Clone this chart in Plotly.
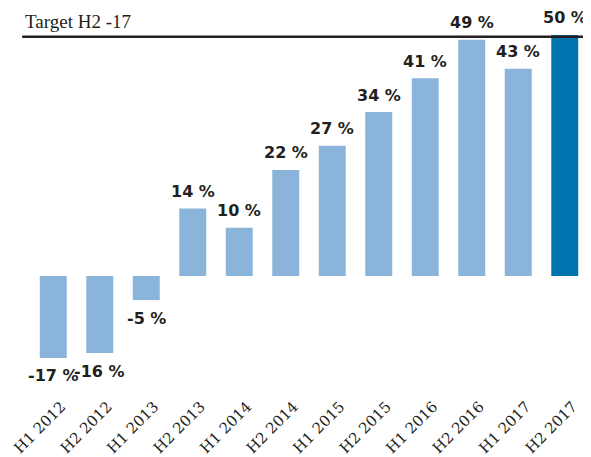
import plotly.graph_objects as go

categories = ["H1 2012", "H2 2012", "H1 2013", "H2 2013", "H1 2014", "H2 2014",
              "H1 2015", "H2 2015", "H1 2016", "H2 2016", "H1 2017", "H2 2017"]
values = [-17, -16, -5, 14, 10, 22, 27, 34, 41, 49, 43, 50]
labels = ["-17 %", "-16 %", "-5 %", "14 %", "10 %", "22 %", "27 %", "34 %",
          "41 %", "49 %", "43 %", "50 %"]
target_value = 49.6
target_label = "Target H2 -17"

light = "#8ab4d9"
dark = "#0072ad"
colors = [light] * (len(values) - 1) + [dark]

fig = go.Figure()
fig.add_trace(go.Bar(
    x=categories, y=values, marker=dict(color=colors, line=dict(width=0)),
    width=0.58, hoverinfo="skip",
))

for c, v, t in zip(categories, values, labels):
    fig.add_annotation(
        x=c, y=v, text=t, showarrow=False, xanchor="center", yanchor="middle",
        yshift=17 if v >= 0 else -18,
        font=dict(family="DejaVu Sans", size=16, color="#231f20", weight="bold"),
    )

fig.add_shape(type="line", xref="paper", yref="y", x0=-0.014, x1=1.01,
              y0=target_value, y1=target_value,
              line=dict(color="#231f20", width=2.5), layer="above")
fig.add_annotation(
    xref="paper", yref="y", x=-0.013, y=target_value, text=target_label,
    showarrow=False, xanchor="left", yanchor="bottom", yshift=3,
    font=dict(family="Liberation Serif", size=19, color="#231f20"),
)

fig.update_layout(
    width=583, height=449,
    margin=dict(l=22, r=3, t=12, b=67, autoexpand=False),
    paper_bgcolor="white", plot_bgcolor="white",
    showlegend=False, bargap=0.42,
    xaxis=dict(range=[-0.5, 11.5], tickangle=-45, showgrid=False, zeroline=False,
               showline=False, ticks="", automargin=False,
               ticklabelshift=8, ticklabelstandoff=4,
               tickfont=dict(family="DejaVu Serif", size=15, color="#231f20")),
    yaxis=dict(range=[-23.65, 53.1], visible=False, showgrid=False, zeroline=False,
               automargin=False),
)

fig.write_html("out.html")
